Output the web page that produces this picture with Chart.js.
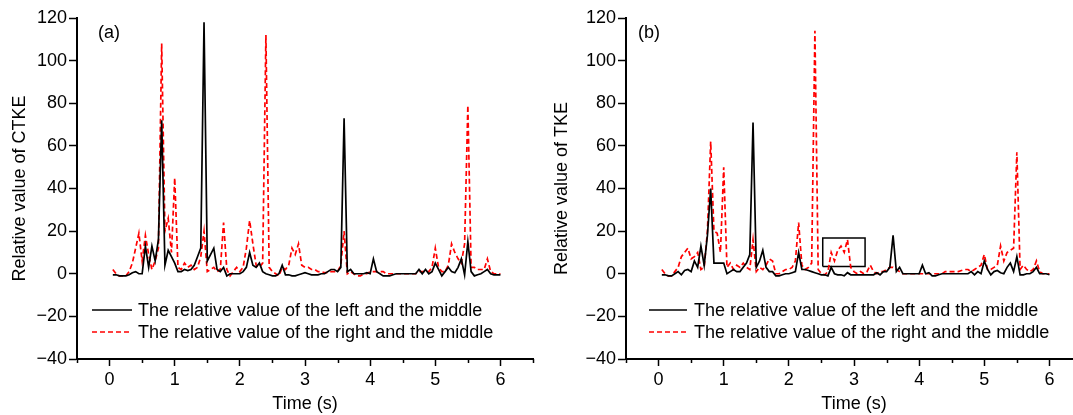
<!DOCTYPE html>
<html>
<head>
<meta charset="utf-8">
<script src="https://cdn.jsdelivr.net/npm/chart.js@4.4.1/dist/chart.umd.min.js"></script>
<style>
    html, body { margin: 0; padding: 0; background: #fff; width: 1073px; height: 415px; overflow: hidden; }
    .panel { position: absolute; top: 0; height: 415px; }
    #panelA { left: 0; width: 540px; }
    #panelB { left: 533px; width: 560px; }
</style>
</head>
<body>
<div class="panel" id="panelA"><canvas id="chartA" width="540" height="415"></canvas></div>
<div class="panel" id="panelB"><canvas id="chartB" width="560" height="415"></canvas></div>
<script>
// sampling times (s)
var time = [
    0.05, 0.1, 0.15, 0.2, 0.25, 0.3, 0.35, 0.4, 0.45, 0.5,
    0.55, 0.6, 0.65, 0.7, 0.75, 0.8, 0.85, 0.9, 0.95, 1.0,
    1.05, 1.1, 1.15, 1.2, 1.25, 1.3, 1.35, 1.4, 1.45, 1.5,
    1.55, 1.6, 1.65, 1.7, 1.75, 1.8, 1.85, 1.9, 1.95, 2.0,
    2.05, 2.1, 2.15, 2.2, 2.25, 2.3, 2.35, 2.4, 2.45, 2.5,
    2.55, 2.6, 2.65, 2.7, 2.75, 2.8, 2.85, 2.9, 2.95, 3.0,
    3.05, 3.1, 3.15, 3.2, 3.25, 3.3, 3.35, 3.4, 3.45, 3.5,
    3.55, 3.6, 3.65, 3.7, 3.75, 3.8, 3.85, 3.9, 3.95, 4.0,
    4.05, 4.1, 4.15, 4.2, 4.25, 4.3, 4.35, 4.4, 4.45, 4.5,
    4.55, 4.6, 4.65, 4.7, 4.75, 4.8, 4.85, 4.9, 4.95, 5.0,
    5.05, 5.1, 5.15, 5.2, 5.25, 5.3, 5.35, 5.4, 5.45, 5.5,
    5.55, 5.6, 5.65, 5.7, 5.75, 5.8, 5.85, 5.9, 5.95, 6.0
];

// (a) relative value of CTKE
var ctkeLeftMiddle = [
    -0.5, -0.5, -1, -1, -1, -0.5, 0.5, 1, 0, 0,
    13, 3, 13, 6, 16, 72, 4, 11, 8, 5,
    1, 1, 2, 1.5, 2, 4, 8, 12, 118, 6,
    9, 12, 2, 1, 3, -1, 0, 0, 0, 0,
    1, 3, 10, 4, 3, 5, 1, 0, -0.5, -1,
    -1, 0, 4, -0.5, -0.5, -1, -1, -0.5, 0, 0.5,
    0, -0.5, -0.5, -0.5, 0, 0, 1, 2, 2, 1,
    3, 73, 1, 2, 0, 0, 0, 0, 0.5, 0,
    7, 1, 0, -1, -1, -1, -0.5, 0, 0, 0,
    0, 0, 0, 0, 2, 0, 2, 0, 1, 5,
    2, -1, 1, 3, 1, 0.5, 3, 7, -0.5, 15,
    1, -1, -0.5, 0, 1, 2, 0, -0.5, -0.5, -0.5
];
var ctkeRightMiddle = [
    2, 0, -1, -1, -1, 1, 5, 12, 19, 6,
    18, 9, 2, 6, 12, 108, 20, 26, 10, 45,
    3, 2, 5, 3, 4, 2, 3, 8, 20, 1,
    2, 3, 1, 2, 24, 2, -1, 1, 3, 1,
    3, 12, 25, 14, 4, 3, 5, 112, 3, 1,
    0, -1, 3, 2, 4, 12, 9, 14, 4, 3,
    3, 2, 2, 1, 1, 0.5, 0.5, 1, 1, 1,
    4, 20, 0, 1, 0, -1, -1, 0, 0, 1,
    1, 1, 1, 1, 0, 0, 0, 0, 0, 0,
    0, 0, 0, 0, 1, 1, 1, 1, 3, 12,
    3, 1, 1, 4, 14, 10, 7, 5, 14, 79,
    3, 3, 2, 2, 2, 7, 1, 0, 0, 0
];

// (b) relative value of TKE
var tkeLeftMiddle = [
    -0.5, -0.5, -1, -1, 0, 1, -0.5, 1.5, 2, 1,
    6, 3, 13, 4, 18, 40, 5, 5, 5, 5,
    0, 1, 2, 1, 1, 3, 5, 9, 71, 3,
    6, 11, 3, 1, 1, -1, -1, -0.5, 0, 0,
    0.5, 1, 10, 2, 2, 1.5, 1, 0.5, 0, -0.5,
    -0.5, -1, 3, 0, -0.5, -0.5, -1, 0.5, -0.5, -0.5,
    -0.5, -0.5, -0.5, -0.5, -0.5, -0.5, 0.5, -0.5, 1, 1,
    3, 18, 1, 3, 0, 0, 0, 0, 0, 0,
    4, 0, 0.5, -1, -1, -0.5, 0, 0, 0, 0,
    0, 0, 0, 0, 0, 1, -0.5, 1, 0, 6,
    2, -0.5, 1, 1.5, 0.5, 0, 3, 5, 1, 8,
    -0.5, -0.5, 0, 0, 1, 3, 0, 0, 0, -0.5
];
var tkeRightMiddle = [
    2, 0, -1, -1, 1, 3, 8, 10, 12, 7,
    8, 10, 2, 3, 20, 62, 20, 19, 10, 50,
    3, 5, 2, 4, 3, 5, 3, 2, 16, 1,
    3, 2, 4, 7, 6, 0, 0, 1, 2, 2,
    3, 6, 24, 4, 2, 3, 5, 114, 2, 0,
    -0.5, 1, 10, 6, 11, 13, 10, 16, 3, 1,
    0, 1, 0, 1, 4, 1, 0, 1, 1, 2,
    3, 3, 2, 1, 0, 0, 0, 0, 0, 0,
    0, 0, 0, 0, 0, 0, 0, 1, 1, 1,
    1, 1, 1.5, 2, 2, 1, 2, 3, 4, 9,
    2, 2, 3, 4, 13, 6, 10, 11, 12, 57,
    2, 4, 2, 1, 2, 6, 1, 0, 0, 0
];

// highlighted window in (b): [x0, x1, y0, y1]
var boxB = [2.52, 3.17, 3.4, 16.8];

var seriesNames = [
    "The relative value of the left and the middle",
    "The relative value of the right and the middle"
];
var xRange = [-0.5, 6.5];
var yRange = [-40, 120];

var FONT = "'Liberation Sans', Arial, Helvetica, sans-serif";

function toPoints(xs, ys) {
    var pts = [];
    for (var i = 0; i < xs.length; i++) {
        pts.push({ x: xs[i], y: ys[i] });
    }
    return pts;
}

function isMajorX(v) { return Number.isInteger(v); }
function isMajorY(v) { return v % 20 === 0; }

// short minor ticks (Chart.js only draws one tick length)
var minorTicks = {
    id: 'minorTicks',
    afterDraw: function (chart) {
        var ctx = chart.ctx;
        var xs = chart.scales.x, ys = chart.scales.y;
        var area = chart.chartArea;
        ctx.save();
        ctx.strokeStyle = '#000';
        ctx.lineWidth = 1.5;
        ctx.beginPath();
        xs.ticks.forEach(function (t) {
            if (isMajorX(t.value)) return;
            var px = Math.round(xs.getPixelForValue(t.value)) + 0.5;
            ctx.moveTo(px, area.bottom);
            ctx.lineTo(px, area.bottom + 4);
        });
        ys.ticks.forEach(function (t) {
            if (isMajorY(t.value)) return;
            var py = Math.round(ys.getPixelForValue(t.value)) + 0.5;
            ctx.moveTo(area.left, py);
            ctx.lineTo(area.left - 4, py);
        });
        ctx.stroke();
        ctx.restore();
    }
};

// legend and panel letter are drawn inside the plot
var innerLegend = {
    id: 'innerLegend',
    afterDraw: function (chart, args, opts) {
        var ctx = chart.ctx;
        ctx.save();
        ctx.font = '18px ' + FONT;
        ctx.fillStyle = '#000';
        ctx.textBaseline = 'middle';
        ctx.textAlign = 'left';
        ctx.fillText(opts.letter, opts.letterX, opts.letterY);

        for (var i = 0; i < 2; i++) {
            var ds = chart.data.datasets[i];
            var y = opts.y + i * opts.rowH;
            ctx.beginPath();
            ctx.strokeStyle = ds.borderColor;
            ctx.lineWidth = ds.borderWidth;
            ctx.setLineDash(ds.borderDash || []);
            ctx.moveTo(opts.x, y);
            ctx.lineTo(opts.x + opts.lineLen, y);
            ctx.stroke();
            ctx.setLineDash([]);
            ctx.fillText(ds.label, opts.x + opts.lineLen + opts.gap, y + 1);
        }
        ctx.restore();
    }
};

function makeChart(id, leftSeries, rightSeries, yTitle, cfg) {
    var datasets = [
        {
            label: seriesNames[0],
            data: toPoints(time, leftSeries),
            borderColor: '#000000',
            borderWidth: 1.7,
            pointRadius: 0,
            tension: 0
        },
        {
            label: seriesNames[1],
            data: toPoints(time, rightSeries),
            borderColor: '#ff0000',
            borderWidth: 1.7,
            borderDash: [5, 3],
            pointRadius: 0,
            tension: 0
        }
    ];
    if (cfg.box) {
        var b = cfg.box;
        datasets.push({
            label: 'box',
            data: toPoints([b[0], b[1], b[1], b[0], b[0]], [b[2], b[2], b[3], b[3], b[2]]),
            borderColor: '#000000',
            borderWidth: 1.5,
            pointRadius: 0,
            tension: 0
        });
    }

    var ctx = document.getElementById(id).getContext('2d');
    return new Chart(ctx, {
        type: 'line',
        data: { datasets: datasets },
        plugins: [innerLegend, minorTicks],
        options: {
            responsive: false,
            animation: false,
            devicePixelRatio: 1,
            layout: { padding: { left: 0, top: 18, right: cfg.padRight, bottom: 0 } },
            plugins: {
                legend: { display: false },
                tooltip: { enabled: false },
                innerLegend: cfg.legend
            },
            scales: {
                x: {
                    type: 'linear',
                    min: xRange[0],
                    max: xRange[1],
                    ticks: {
                        stepSize: 0.5,
                        autoSkip: false,
                        maxRotation: 0,
                        padding: 3,
                        color: '#000',
                        font: { family: FONT, size: 18 },
                        callback: function (v) { return isMajorX(v) ? String(v) : ''; }
                    },
                    grid: {
                        drawOnChartArea: false, tickLength: 7, tickWidth: 1.5,
                        tickColor: function (c) { return c.tick && isMajorX(c.tick.value) ? '#000' : 'rgba(0,0,0,0)'; }
                    },
                    border: { display: true, color: '#000', width: 2 },
                    title: {
                        display: true, text: 'Time (s)', color: '#000',
                        font: { family: FONT, size: 18 }, padding: { top: 0, bottom: 0 }
                    },
                    afterFit: function (s) {
                        s.height = 56;
                        s.paddingLeft = 0;
                        s.paddingRight = 0;
                    }
                },
                y: {
                    min: yRange[0],
                    max: yRange[1],
                    ticks: {
                        stepSize: 10,
                        padding: 2,
                        color: '#000',
                        font: { family: FONT, size: 18 },
                        callback: function (v) {
                            if (!isMajorY(v)) return '';
                            return v < 0 ? '\u2212' + Math.abs(v) : String(v);
                        }
                    },
                    grid: {
                        drawOnChartArea: false, tickLength: 8, tickWidth: 1.5,
                        tickColor: function (c) { return c.tick && isMajorY(c.tick.value) ? '#000' : 'rgba(0,0,0,0)'; }
                    },
                    border: { display: true, color: '#000', width: 2 },
                    title: {
                        display: true, text: yTitle, color: '#000',
                        font: { family: FONT, size: 18 }, padding: { top: cfg.titlePad, bottom: 0 }
                    },
                    afterFit: function (s) {
                        s.width = cfg.axisWidth;
                        s.paddingTop = 0;
                        s.paddingBottom = 0;
                    }
                }
            }
        }
    });
}

makeChart('chartA', ctkeLeftMiddle, ctkeRightMiddle, 'Relative value of CTKE', {
    axisWidth: 77,
    padRight: 7,
    titlePad: 9,
    legend: { x: 92, y: 310, rowH: 22, lineLen: 40, gap: 6, letter: '(a)', letterX: 98, letterY: 33 }
});

makeChart('chartB', tkeLeftMiddle, tkeRightMiddle, 'Relative value of TKE', {
    axisWidth: 93,
    padRight: 11,
    titlePad: 18,
    box: boxB,
    legend: { x: 116, y: 310, rowH: 22, lineLen: 38, gap: 7, letter: '(b)', letterX: 105, letterY: 33 }
});
</script>
</body>
</html>
